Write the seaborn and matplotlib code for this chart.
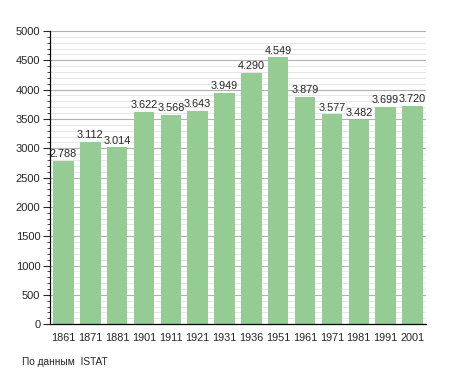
import matplotlib
matplotlib.use('Agg')
import matplotlib.pyplot as plt
import seaborn as sns
import pandas as pd
from matplotlib.ticker import MultipleLocator

years = ['1861', '1871', '1881', '1901', '1911', '1921', '1931', '1936',
         '1951', '1961', '1971', '1981', '1991', '2001']
population = [2788, 3112, 3014, 3622, 3568, 3643, 3949, 4290,
              4549, 3879, 3577, 3482, 3699, 3720]

df = pd.DataFrame({'year': years, 'pop': population})

sns.set_style('white')
plt.rcParams['font.family'] = ['Liberation Sans', 'DejaVu Sans']

fig = plt.figure(figsize=(4.55, 3.73), dpi=100)
ax = fig.add_axes([0.110, 0.131, 0.826, 0.786])

sns.barplot(data=df, x='year', y='pop', color='#94cc94', saturation=1,
            width=0.76, linewidth=0, ax=ax)
for p in ax.patches:
    p.set_zorder(3)

ax.set_ylim(0, 5000)
ax.set_xlim(-0.5, len(years) - 0.5)
ax.yaxis.set_major_locator(MultipleLocator(500))
ax.yaxis.set_minor_locator(MultipleLocator(100))
ax.grid(axis='y', which='major', color='#b0b0b0', linewidth=0.8)
ax.grid(axis='y', which='minor', color='#e2e2e2', linewidth=0.6)
ax.set_axisbelow(True)

for s in ['top', 'right']:
    ax.spines[s].set_visible(False)
for s in ['left', 'bottom']:
    ax.spines[s].set_color('black')
    ax.spines[s].set_linewidth(0.9)
    ax.spines[s].set_zorder(4)

ax.tick_params(axis='y', which='major', left=True, length=5, width=0.8,
               labelsize=8, pad=2)
ax.tick_params(axis='y', which='minor', left=True, length=2.5, width=0.6)
ax.tick_params(axis='x', bottom=False, labelsize=7.8, pad=3)
ax.set_xlabel('')
ax.set_ylabel('')

for i, v in enumerate(population):
    label = f'{v:,}'.replace(',', '.')
    ax.text(i, v + 30, label, ha='center', va='bottom', fontsize=7.8, zorder=5)

fig.text(0.048, 0.017, 'По данным  ISTAT', fontsize=7.3, ha='left', va='bottom')

fig.savefig('out.png', dpi=100)
